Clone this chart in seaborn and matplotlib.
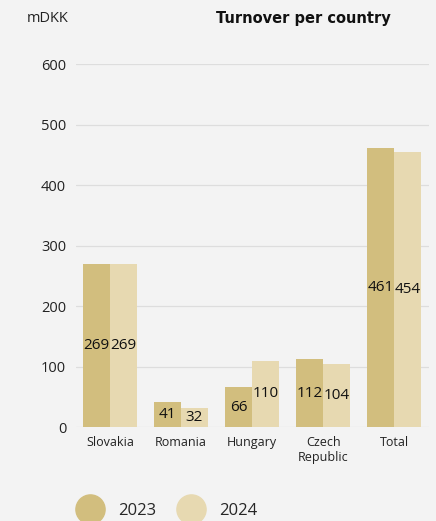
import matplotlib
matplotlib.use("Agg")
import matplotlib.pyplot as plt
import seaborn as sns
import pandas as pd
from matplotlib.lines import Line2D

categories = ["Slovakia", "Romania", "Hungary", "Czech\nRepublic", "Total"]
values_2023 = [269, 41, 66, 112, 461]
values_2024 = [269, 32, 110, 104, 454]
years = ["2023", "2024"]
colors = ["#d2be7e", "#e7d9b1"]
yticks = [0, 100, 200, 300, 400, 500, 600]

df = pd.DataFrame({
    "country": categories * 2,
    "year": [years[0]] * len(categories) + [years[1]] * len(categories),
    "value": values_2023 + values_2024,
})

sns.set_theme(style="white")
plt.rcParams["font.family"] = ["Open Sans", "DejaVu Sans"]
bg = "#f3f3f3"

fig = plt.figure(figsize=(4.36, 5.21), dpi=100, facecolor=bg)
ax = fig.add_axes([0.174, 0.180, 0.810, 0.697])
ax.set_facecolor(bg)

sns.barplot(data=df, x="country", y="value", hue="year", order=categories,
            hue_order=years, palette=colors, width=0.76, saturation=1,
            ax=ax, legend=False, errorbar=None, linewidth=0, edgecolor="none")

for cont in ax.containers:
    ax.bar_label(cont, label_type="center", fontsize=11, color="#111111", padding=0)

ax.set_ylim(0, 600)
ax.set_xlim(-0.48, 4.49)
ax.set_yticks(yticks)
ax.set_yticklabels([str(t) for t in yticks], fontsize=10.5, color="#222222")
ax.tick_params(axis="y", length=0, pad=7)
ax.tick_params(axis="x", length=0, pad=6, labelsize=9, labelcolor="#222222")
ax.grid(axis="y", color="#dddddd", linewidth=0.9)
ax.set_axisbelow(True)
for s in ax.spines.values():
    s.set_visible(False)
ax.set_xlabel("")
ax.set_ylabel("")

fig.text(0.062, 0.965, "mDKK", fontsize=10.5, color="#222222", ha="left", va="center")
fig.text(0.695, 0.965, "Turnover per country", fontsize=10.5, fontweight="bold",
         family=["DejaVu Sans"], color="#111111", ha="center", va="center")

handles = [Line2D([0], [0], marker="o", linestyle="", markersize=21,
                  markerfacecolor=c, markeredgecolor=c) for c in colors]
fig.legend(handles, years, loc="center left", bbox_to_anchor=(0.148, 0.02),
           ncol=2, frameon=False, fontsize=12, handletextpad=1.1,
           columnspacing=1.5, handlelength=1.2)

fig.savefig("out.png", dpi=100, facecolor=bg)
